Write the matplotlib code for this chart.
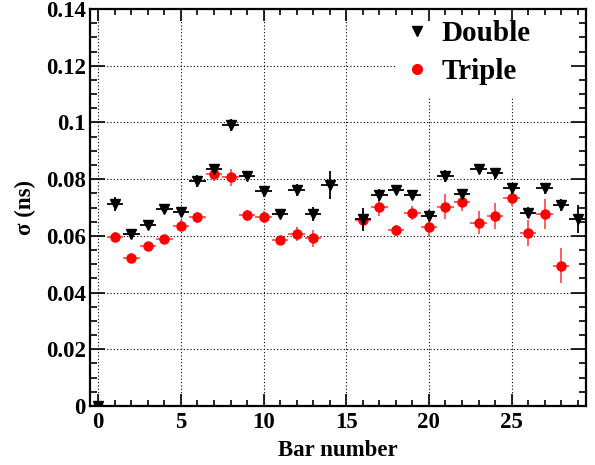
import numpy as np
import matplotlib
matplotlib.use('Agg')
import matplotlib.pyplot as plt
from matplotlib.lines import Line2D
from matplotlib.ticker import MultipleLocator, FuncFormatter

# bar index 0..29, nan = no measurement
bars = np.arange(30)

sigma_double = [0.0, 0.0711, 0.0605, 0.0639, 0.0696, 0.0685, 0.0794, 0.0837, 0.0991, 0.0812,
                0.0757, 0.0677, 0.0762, 0.0677, 0.0779, np.nan, 0.0658, 0.0744, 0.0762, 0.0744,
                0.0671, 0.0811, 0.0746, 0.0835, 0.0820, 0.0768, 0.0682, 0.0768, 0.0709, 0.0659]
err_double = [0.0, 0.0025, 0.0015, 0.0015, 0.001, 0.0015, 0.002, 0.0015, 0.002, 0.0015,
              0.002, 0.0015, 0.002, 0.0025, 0.005, np.nan, 0.004, 0.002, 0.0015, 0.0015,
              0.002, 0.002, 0.0015, 0.0015, 0.002, 0.002, 0.002, 0.002, 0.002, 0.005]

sigma_triple = [0.0, 0.0597, 0.0523, 0.0565, 0.0589, 0.0636, 0.0665, 0.0818, 0.0806, 0.0672,
                0.0667, 0.0585, 0.0606, 0.0591, np.nan, np.nan, 0.0656, 0.0700, 0.0619, 0.0682,
                0.0630, 0.0703, 0.0718, 0.0646, 0.0671, 0.0735, 0.0609, 0.0676, 0.0494, np.nan]
err_triple = [0.0, 0.0015, 0.0015, 0.0015, 0.0015, 0.002, 0.002, 0.0025, 0.003, 0.002,
              0.002, 0.0015, 0.0025, 0.003, np.nan, np.nan, 0.003, 0.003, 0.002, 0.0025,
              0.003, 0.0044, 0.003, 0.0041, 0.0046, 0.003, 0.0046, 0.0053, 0.0062, np.nan]

yticks = [0, 0.02, 0.04, 0.06, 0.08, 0.1, 0.12, 0.14]

plt.rcParams['font.family'] = ['Liberation Serif', 'DejaVu Serif']
plt.rcParams['font.weight'] = 'bold'

fig = plt.figure(figsize=(5.95, 4.65), dpi=100)
rect = [90/595, 59/465, 496/595, 397/465]
ax = fig.add_axes(rect)

ax.errorbar(bars, sigma_triple, yerr=err_triple, xerr=0.5, fmt='o', color='red',
            ecolor='#ff5050', ms=6.5, elinewidth=1.3, capsize=0, zorder=3)
ax.errorbar(bars, sigma_double, yerr=err_double, xerr=0.5, fmt='v', color='black',
            ms=7, elinewidth=1.3, capsize=0, zorder=4)

ax.set_xlim(-0.5, 29.5)
ax.set_ylim(0, 0.14)
ax.set_yticks(yticks)
ax.yaxis.set_major_formatter(FuncFormatter(lambda v, p: '%g' % round(v, 3)))
ax.xaxis.set_major_locator(MultipleLocator(5))
ax.xaxis.set_minor_locator(MultipleLocator(1))
ax.yaxis.set_minor_locator(MultipleLocator(0.005))

# main axes: only grid + data + legend
ax.grid(True, which='major', color='black', linestyle=(0, (1, 2)), linewidth=0.8)
ax.set_axisbelow(True)
ax.tick_params(which='both', length=0, labelleft=False, labelbottom=False)
for s in ax.spines.values():
    s.set_visible(False)

# overlay axes for frame, ticks and labels (drawn above the legend box)
axo = fig.add_axes(rect, sharex=ax, sharey=ax)
axo.patch.set_visible(False)
axo.tick_params(which='both', direction='in', top=True, right=True, width=1.2,
                labelsize=16.5)
axo.tick_params(axis='x', which='major', length=8.5, pad=4)
axo.tick_params(axis='x', which='minor', length=4)
axo.tick_params(axis='y', which='major', length=10.5, pad=3)
axo.tick_params(axis='y', which='minor', length=5)
for s in axo.spines.values():
    s.set_linewidth(1.6)
for lab in axo.get_xticklabels() + axo.get_yticklabels():
    lab.set_fontweight('bold')

axo.set_xlabel('Bar number', fontsize=16.5, fontweight='bold', labelpad=5)
axo.set_ylabel('σ (ns)', fontsize=16.5, fontweight='bold', labelpad=7)

# legend: white box without border, covering the grid in the top right corner
handles = [Line2D([], [], marker='v', color='black', ls='none', ms=7),
           Line2D([], [], marker='o', color='red', ls='none', ms=7)]
leg = ax.legend(handles, ['Double', 'Triple'], loc='upper left',
                bbox_to_anchor=(0.614, 0.0, 0.386, 1.0), mode='expand',
                fontsize=21, frameon=True,
                facecolor='white', edgecolor='none', framealpha=1,
                fancybox=False, handletextpad=0.43, labelspacing=0.39,
                borderpad=0.38, borderaxespad=0.0, handlelength=0.8)
for t in leg.get_texts():
    t.set_fontweight('bold')
leg.set_zorder(5)

fig.savefig('out.png', dpi=100)
